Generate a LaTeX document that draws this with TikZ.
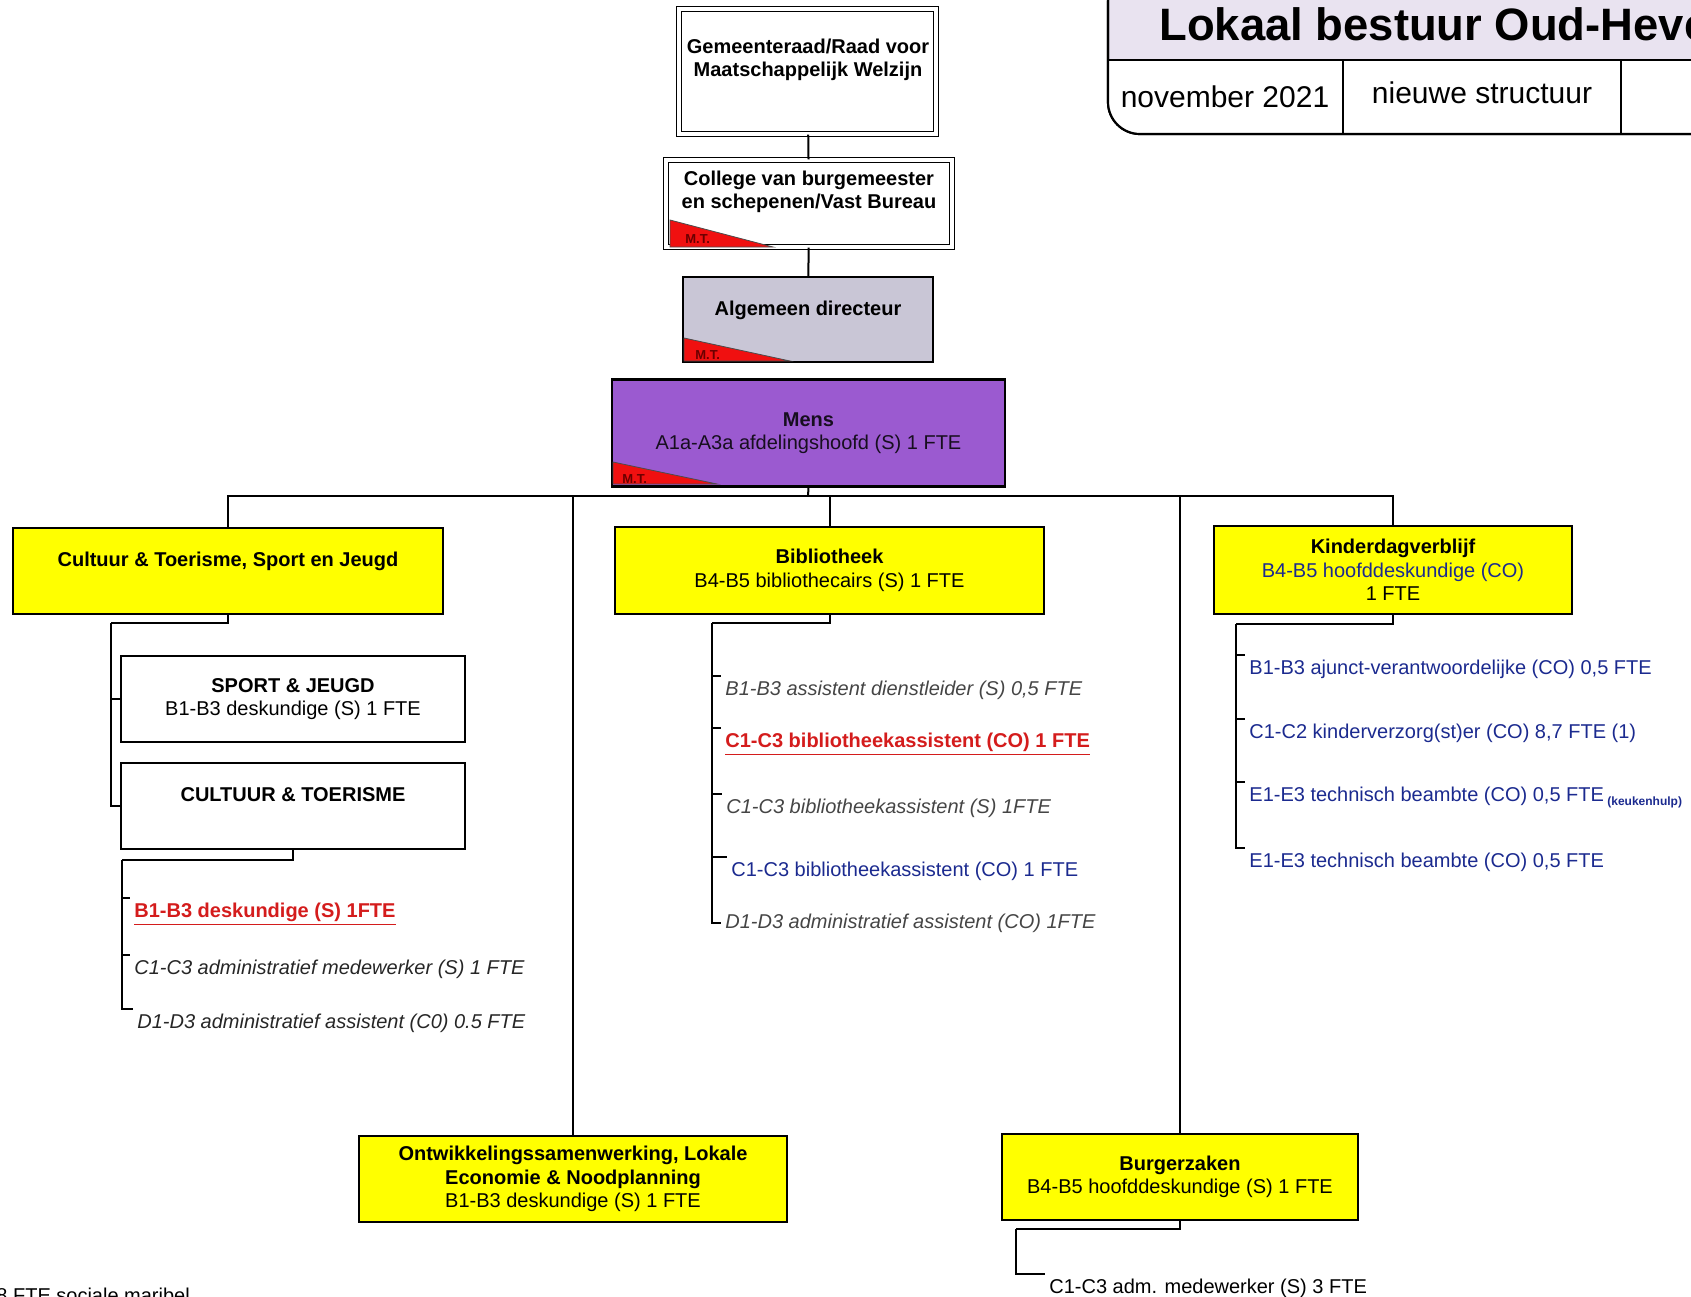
\documentclass[tikz,border=0pt]{standalone}
\usepackage{fontspec}
\setmainfont{Liberation Sans}
\usetikzlibrary{positioning}

\definecolor{geel}{HTML}{FFFF00}
\definecolor{dirgrijs}{HTML}{C9C6D6}
\definecolor{menspaars}{HTML}{9B5AD0}
\definecolor{titelbg}{HTML}{E9E3F0}
\definecolor{mtrood}{HTML}{F01010}
\definecolor{donkerrood}{HTML}{6A0000}
\definecolor{nieuwrood}{HTML}{D41C1C}
\definecolor{coblauw}{HTML}{1B2A8F}
\definecolor{oudgrijs}{HTML}{454545}

\begin{document}
\begin{tikzpicture}[x=0.5pt,y=-0.5pt,
  box/.style={draw, line width=1.1pt, inner sep=0pt, align=center,
    font=\fontsize{10}{11.8}\selectfont},
  dubbel/.style={box, line width=0.7pt, double, double distance=1.6pt},
  geelbox/.style={box, fill=geel},
  wittebox/.style={box, fill=white},
  kop/.style={align=center, font=\fontsize{10}{11.8}\selectfont\bfseries},
  lijn/.style={line width=1pt},
  item/.style={anchor=west, inner sep=2pt, font=\fontsize{10}{12}\selectfont},
  oud/.style={item, font=\fontsize{10}{12}\selectfont\itshape, text=oudgrijs},
  nieuw/.style={item, font=\fontsize{10}{12}\selectfont\bfseries, text=nieuwrood},
  co/.style={item, text=coblauw},
  mt/.style={fill=mtrood, draw=black!70, line width=0.4pt},
  mtlabel/.style={anchor=west, inner sep=0pt, font=\fontsize{6.5}{6.5}\selectfont\bfseries, text=donkerrood}
]
\useasboundingbox (0,0) rectangle (1691,1296);

% title panel top right
\draw[line width=1.1pt, fill=titelbg, rounded corners=16pt] (1108,-30) rectangle (1760,134);
\begin{scope}
\clip[rounded corners=16pt] (1108,-30) rectangle (1760,134);
\fill[white] (1100,60) rectangle (1770,140);
\end{scope}
\draw[line width=1.1pt, rounded corners=16pt] (1108,-30) rectangle (1760,134);
\draw[line width=1.1pt] (1108,60) -- (1760,60);
\draw[line width=1.1pt] (1343,60) -- (1343,134);
\draw[line width=1.1pt] (1621,60) -- (1621,134);
\node[anchor=base west, inner sep=0pt, font=\fontsize{22.7}{26}\selectfont\bfseries] (titel) at (1159,40) {Lokaal bestuur Oud-Heverlee};
\node[font=\fontsize{15}{17}\selectfont] (datum) at (1225,97) {november 2021};
\node[font=\fontsize{15}{17}\selectfont] (soort) at (1482,93) {nieuwe structuur};

% top of the chain
\node[dubbel, minimum width=128.5pt, minimum height=62.5pt] (gem) at (807.5,71.5) {};
\node[kop] (gem-t) at (808,60) {Gemeenteraad/Raad voor\\Maatschappelijk Welzijn};
\node[dubbel, minimum width=143pt, minimum height=43.5pt] (col) at (809,203.5) {};
\node[kop] (col-t) at (809,192) {College van burgemeester\\en schepenen/Vast Bureau};
\node[box, fill=dirgrijs, minimum width=125pt, minimum height=42.5pt] (alg) at (808,319.5) {};
\node[kop] (alg-t) at (808,310) {Algemeen directeur};
\node[box, fill=menspaars, minimum width=196.5pt, minimum height=53.5pt, text=black!85!menspaars] (mens) at (808.5,433) {\textbf{Mens}\\A1a-A3a afdelingshoofd (S) 1 FTE};

% M.T. corners
\filldraw[mt] (670,247) -- ++(0,-27) -- ++(103,27) -- cycle;
\node[mtlabel] (col-mt) at (685,239) {M.T.};
\filldraw[mt] (684,361) -- ++(0,-23) -- ++(106,23) -- cycle;
\node[mtlabel] (alg-mt) at (695,355) {M.T.};
\filldraw[mt] (613,484) -- ++(0,-22) -- ++(104,22) -- cycle;
\node[mtlabel] (mens-mt) at (622,479) {M.T.};

\draw[lijn] (gem) -- (col);
\draw[lijn] (col) -- (alg);

% departments
\node[geelbox, minimum width=215pt, minimum height=43pt] (cult) at (228,571) {};
\node[kop] (cult-t) at (228,561) {Cultuur \& Toerisme, Sport en Jeugd};
\node[geelbox, minimum width=214.5pt, minimum height=43.5pt] (bib) at (829.5,570.5) {\textbf{Bibliotheek}\\B4-B5 bibliothecairs (S) 1 FTE};
\node[geelbox, minimum width=179pt, minimum height=44pt] (kind) at (1393,570) {\textbf{Kinderdagverblijf}\\\textcolor{coblauw}{B4-B5 hoofddeskundige (CO)}\\1 FTE};
\node[geelbox, minimum width=214pt, minimum height=43pt] (ontw) at (573,1179) {\textbf{Ontwikkelingssamenwerking, Lokale}\\\textbf{Economie \& Noodplanning}\\B1-B3 deskundige (S) 1 FTE};
\node[geelbox, minimum width=178pt, minimum height=43pt] (burg) at (1180,1177) {\textbf{Burgerzaken}\\B4-B5 hoofddeskundige (S) 1 FTE};

\coordinate (bus) at (808,496);
\draw[lijn] (mens.south) -- (bus);
\foreach \dienst in {cult,bib,kind,ontw,burg}
  \draw[lijn] (bus) -| (\dienst.north);

% sport and culture
\node[wittebox, minimum width=172pt, minimum height=43pt] (sport) at (293,699) {\textbf{SPORT \& JEUGD}\\B1-B3 deskundige (S) 1 FTE};
\node[wittebox, minimum width=172pt, minimum height=43pt] (ct) at (293,806) {};
\node[kop] (ct-t) at (293,795) {CULTUUR \& TOERISME};
\coordinate (cultrail) at (111,623);
\draw[lijn] (cult.south) |- (cultrail);
\draw[lijn] (cultrail) |- (sport.west);
\draw[lijn] (cultrail) |- (ct.west);

\node[nieuw] (ct1) at (130,914) {\underline{B1-B3 deskundige (S) 1FTE}};
\node[oud, text=black!85] (ct2) at (130,969) {C1-C3 administratief medewerker (S) 1 FTE};
\node[oud, text=black!85] (ct3) at (133,1023) {D1-D3 administratief assistent (C0) 0.5 FTE};
\coordinate (ctrail) at (122,860);
\draw[lijn] (ct.south) |- (ctrail);
\foreach \i in {ct1,ct2,ct3}
  \draw[lijn] (ctrail) |- (\i.north west);

% library staff
\node[oud] (bib1) at (721,690) {B1-B3 assistent dienstleider (S) 0,5 FTE};
\node[nieuw] (bib2) at (721,744) {\underline{C1-C3 bibliotheekassistent (CO) 1 FTE}};
\node[oud] (bib3) at (722,808) {C1-C3 bibliotheekassistent (S) 1FTE};
\node[co] (bib4) at (727,871) {C1-C3 bibliotheekassistent (CO) 1 FTE};
\node[oud] (bib5) at (721,923) {D1-D3 administratief assistent (CO) 1FTE};
\coordinate (bibrail) at (712,623);
\draw[lijn] (bib.south) |- (bibrail);
\foreach \i in {bib1,bib2,bib3,bib4}
  \draw[lijn] (bibrail) |- (\i.north west);
\draw[lijn] (bibrail) |- (bib5.west);

% day care staff
\node[co] (kind1) at (1245,669) {B1-B3 ajunct-verantwoordelijke (CO) 0,5 FTE};
\node[co] (kind2) at (1245,733) {C1-C2 kinderverzorg(st)er (CO) 8,7 FTE (1)};
\node[co] (kind3) at (1245,797) {E1-E3 technisch beambte (CO) 0,5 FTE\,\raisebox{-2pt}{\fontsize{6}{6}\selectfont\bfseries (keukenhulp)}};
\node[co] (kind4) at (1245,862) {E1-E3 technisch beambte (CO) 0,5 FTE};
\coordinate (kindrail) at (1236,624);
\draw[lijn] (kind.south) |- (kindrail);
\foreach \i in {kind1,kind2,kind3,kind4}
  \draw[lijn] (kindrail) |- (\i.north west);

% civil affairs
\node[item] (burg1) at (1045,1288) {C1-C3 adm. medewerker (S) 3 FTE};
\coordinate (burgrail) at (1016,1229);
\draw[lijn] (burg.south) |- (burgrail);
\draw[lijn] (burgrail) |- (burg1.north west);

\node[anchor=base west, inner sep=0pt, font=\fontsize{10}{12}\selectfont] (maribel) at (-4,1302) {8 FTE sociale maribel};

\end{tikzpicture}
\end{document}
